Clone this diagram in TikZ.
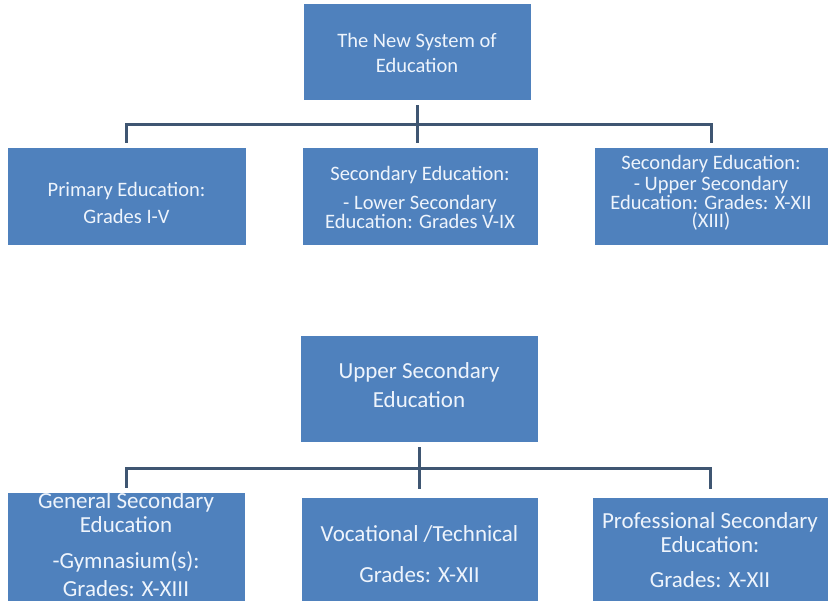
\documentclass[tikz,border=0pt]{standalone}
\usepackage{fontspec}
\setmainfont{Carlito}
\definecolor{boxblue}{HTML}{4F81BD}
\definecolor{linegray}{HTML}{3F5672}
\definecolor{txtwhite}{HTML}{EEF4FC}
\newcommand\smallfnt{\fontsize{20.5}{18.5}\selectfont\lineskiplimit-20pt\relax}
\newcommand\largefnt{\fontsize{23}{24.5}\selectfont\lineskiplimit-20pt\relax}

\begin{document}
\begin{tikzpicture}[x=1pt,y=-1pt]

\tikzset{box/.style = {rectangle, fill=boxblue, draw=white, line width=0.8pt, inner sep=0pt}}
\tikzset{txt/.style = {text=txtwhite, align=center, inner sep=0pt}}
\tikzset{small/.style = {font=\smallfnt}}
\tikzset{large/.style = {font=\largefnt}}
\tikzset{conn/.style = {draw=linegray, line width=3pt}}

\useasboundingbox (0,0) rectangle (828,603);

%first chart
\node[box, minimum width=228, minimum height=97] (top) at (417,51.5) {};
\node[box, minimum width=239, minimum height=98] (p1) at (126.5,196) {};
\node[box, minimum width=236, minimum height=98] (p2) at (420,196) {};
\node[box, minimum width=234, minimum height=98] (p3) at (711,196) {};
\node[txt, font=\fontsize{20.5}{25}\selectfont] (topt) at ([yshift=-1.5pt]top) {The New System of\\Education};
\node[txt, small] (p1t) at ([yshift=-7pt]p1) {Primary Education:\\[9pt]Grades I-V};
\node[txt, small] (p2t) at ([yshift=-1pt]p2) {Secondary Education:\\[11pt]- Lower Secondary\\Education: Grades V-IX};
\node[txt, small] (p3t) at ([yshift=3pt]p3) {Secondary Education:\\[3pt]- Upper Secondary\\Education: Grades: X-XII\\(XIII)};

%second chart
\node[box, minimum width=238, minimum height=107] (upper) at (419,388.5) {};
\node[box, minimum width=238, minimum height=109] (b1) at (126,546.5) {};
\node[box, minimum width=237, minimum height=104] (b2) at (419.5,549) {};
\node[box, minimum width=236, minimum height=104] (b3) at (710,549) {};
\node[txt, font=\fontsize{23}{29}\selectfont] (uppert) at ([yshift=3pt]upper) {Upper Secondary\\Education};
\node[txt, large] (b1t) at ([yshift=2pt]b1) {General Secondary\\Education\\[11pt]-Gymnasium(s):\\[4pt]Grades: X-XIII};
\node[txt, large] (b2t) at ([yshift=-5pt]b2) {Vocational /Technical\\[17pt]Grades: X-XII};
\node[txt, large] (b3t) at ([yshift=-1pt]b3) {Professional Secondary\\Education:\\[10pt]Grades: X-XII};

%connectors
\coordinate (r1) at ([yshift=-24pt]top.south);
\coordinate (r2) at ([yshift=-26pt]upper.south);
\draw[conn] ([yshift=4pt]p1.north) -- (p1.north |- r1) -- (p3.north |- r1) -- ([yshift=4pt]p3.north);
\draw[conn] ([yshift=-5pt]top.south) -- ([yshift=4pt]top.south |- p2.north);
\draw[conn] ([yshift=4pt]b1.north) -- (b1.north |- r2) -- (b3.north |- r2) -- ([yshift=8pt]b3.north);
\draw[conn] ([yshift=-5pt]upper.south) -- ([yshift=8pt]upper.south |- b2.north);

\end{tikzpicture}
\end{document}
